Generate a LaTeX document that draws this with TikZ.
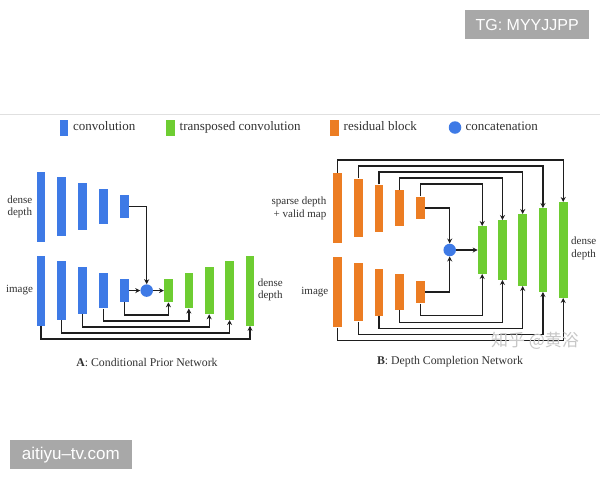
\documentclass[tikz,border=0pt]{standalone}
\usepackage{fontspec}
\setmainfont{Liberation Serif}
\newfontfamily\wmsans{Liberation Sans}
\newfontfamily\cjk{Noto Sans CJK SC}
\usetikzlibrary{arrows.meta}
\definecolor{convblue}{RGB}{62,122,230}
\definecolor{tgreen}{RGB}{110,205,50}
\definecolor{resorange}{RGB}{236,125,35}
\definecolor{linecol}{RGB}{30,30,30}
\definecolor{txt}{RGB}{50,50,50}
\definecolor{wmgray}{RGB}{168,168,168}
\begin{document}
\begin{tikzpicture}[x=1pt,y=-1pt,
 bar/.style={rectangle,inner sep=0pt,minimum width=8.6pt,draw=none},
 cbar/.style={bar,fill=convblue},
 gbar/.style={bar,fill=tgreen},
 obar/.style={bar,fill=resorange},
 cat/.style={circle,fill=convblue,inner sep=0pt,minimum size=12.5pt},
 conn/.style={draw=linecol,line width=1.4pt},
 arr/.style={conn,-{Stealth[length=5pt,width=5pt]}},
 lbl/.style={text=txt,font=\fontsize{11}{12.5}\selectfont,align=center,inner sep=0pt},
 leg/.style={text=txt,font=\fontsize{13}{15}\selectfont,anchor=west,inner sep=0pt,text height=9pt,text depth=3pt},
 captext/.style={text=txt,font=\fontsize{11.8}{14}\selectfont,inner sep=0pt},
 wmbox/.style={fill=wmgray,text=white,inner sep=0pt},
]
\useasboundingbox (0,0) rectangle (600,480);
\fill[white] (0,0) rectangle (600,480);

% watermark boxes
\node[wmbox,font=\wmsans\fontsize{16}{18}\selectfont,minimum width=124.3pt,minimum height=29.3pt] (tg) at (527.2,24.7) {TG: MYYJJPP};
\node[wmbox,font=\wmsans\fontsize{17}{19}\selectfont,minimum width=121.7pt,minimum height=29.3pt] (ait) at (70.8,454.7) {aitiyu–tv.com};

% separator
\draw[black!12,line width=0.8pt] (0,114) -- (600,114);

% legend
\node[cbar,minimum height=16pt] (lconv) at (64,127.5) {};
\node[leg] (lconvt) at (73,127.5) {convolution};
\node[gbar,minimum height=16pt] (ltr) at (170.5,127.5) {};
\node[leg] (ltrt) at (179.5,127.5) {transposed convolution};
\node[obar,minimum height=16pt] (lres) at (334.5,127.5) {};
\node[leg] (lrest) at (343.5,127.5) {residual block};
\node[cat] (lcat) at (455,127.5) {};
\node[leg] (lcatt) at (465.5,127.5) {concatenation};

% ---------------- A ----------------
\foreach \i/\h in {1/70,2/58.5,3/47,4/35.5,5/23}{
  \node[cbar,minimum height=\h pt] (Atop\i) at ({40.8+20.85*(\i-1)},206.7) {};
  \node[cbar,minimum height=\h pt] (Abot\i) at ({40.8+20.85*(\i-1)},290.6) {};
}
\foreach \i/\h in {1/23,2/35.5,3/47,4/58.5,5/70}{
  \node[gbar,minimum height=\h pt] (Agr\i) at ({168.4+20.4*(\i-1)},290.6) {};
}
\node[cat] (Acat) at (146.7,290.6) {};
\draw[arr] (Atop5.east) -| (Acat.north);
\draw[arr] (Abot5.east) -- (Acat.west);
\draw[arr] (Acat.east) -- (Agr1.west);
\foreach \i/\j/\y in {5/1/315,4/2/321,3/3/327,2/4/333,1/5/339}{
  \coordinate (Ay\i) at (0,\y);
  \draw[arr] (Abot\i.south) -- (Abot\i.south |- Ay\i) -| (Agr\j.south);
}
\node[lbl] (Ald) at (19.8,206.7) {dense\\depth};
\node[lbl] (Aimg) at (19.5,290.5) {image};
\node[lbl] (Ard) at (270.3,290) {dense\\depth};
\node[captext] (Acap) at (147,362) {\textbf{A}: Conditional Prior Network};

% ---------------- B ----------------
\foreach \i/\h in {1/70.6,2/58.7,3/47,4/35.3,5/22.7}{
  \node[obar,minimum height=\h pt] (Btop\i) at ({337.5+20.7*(\i-1)},208) {};
  \node[obar,minimum height=\h pt] (Bbot\i) at ({337.5+20.7*(\i-1)},292) {};
}
\foreach \i/\h in {1/47.5,2/59.5,3/71.5,4/83.5,5/95.5}{
  \node[gbar,minimum height=\h pt] (Bgr\i) at ({482.2+20.25*(\i-1)},250) {};
}
\node[cat] (Bcat) at (449.7,250) {};
\draw[arr] (Btop5.east) -| (Bcat.north);
\draw[arr] (Bbot5.east) -| (Bcat.south);
\draw[arr] (Bcat.east) -- (Bgr1.west);
\foreach \i/\j/\y in {5/1/184,4/2/177.8,3/3/171.8,2/4/165.8,1/5/160}{
  \coordinate (BTy\i) at (0,\y);
  \draw[arr] (Btop\i.north) -- (Btop\i.north |- BTy\i) -| (Bgr\j.north);
}
\foreach \i/\j/\y in {5/1/315.7,4/2/322.2,3/3/328.2,2/4/334.2,1/5/340.2}{
  \coordinate (BBy\i) at (0,\y);
  \draw[arr] (Bbot\i.south) -- (Bbot\i.south |- BBy\i) -| (Bgr\j.south);
}
\node[lbl,align=right,anchor=east] (Bsd) at (326.5,208.3) {sparse depth\\+ valid map};
\node[lbl,anchor=east] (Bimg) at (328.5,292.5) {image};
\node[lbl] (Brd) at (583.7,248.5) {dense\\depth};
\node[captext] (Bcap) at (450,362) {\textbf{B}: Depth Completion Network};

% faint site watermark
\node[text=black!22,font=\cjk\fontsize{17}{19}\selectfont,inner sep=0pt] (zh) at (535,341) {知乎 @黄浴};
\end{tikzpicture}
\end{document}
